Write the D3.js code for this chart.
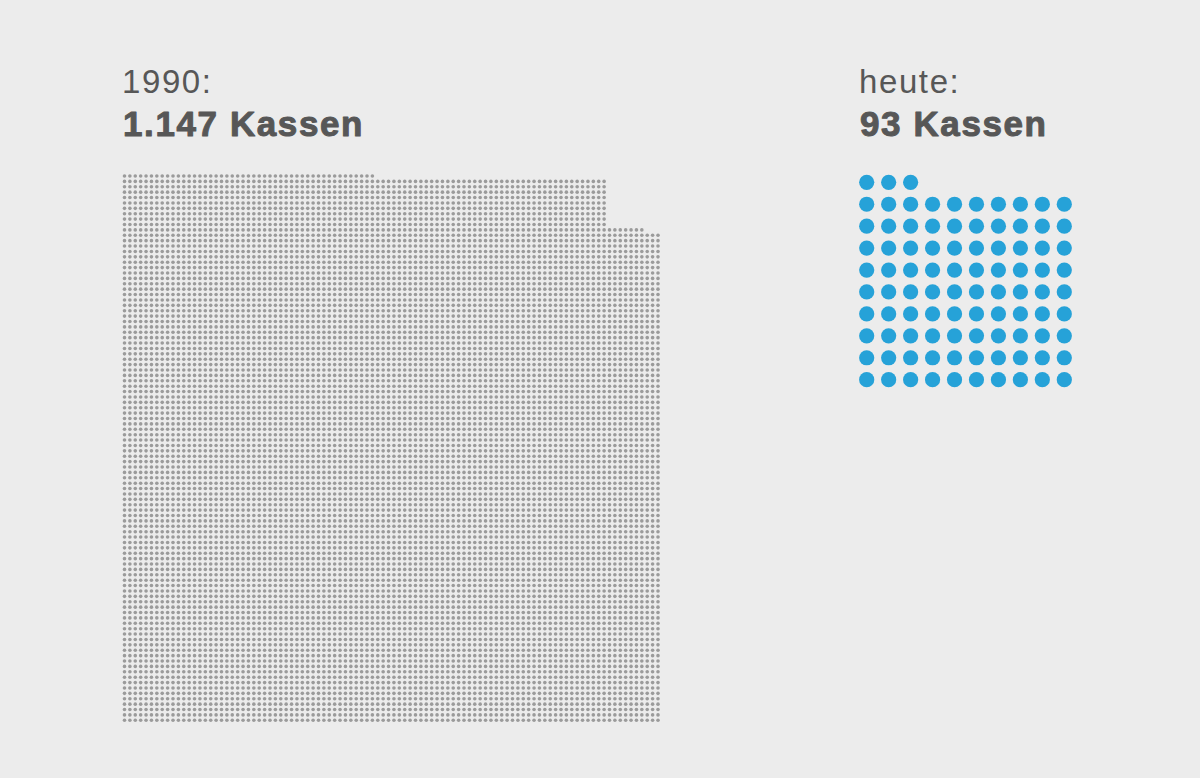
<!DOCTYPE html>
<html>
<head>
<meta charset="utf-8">
<script src="https://cdn.jsdelivr.net/npm/d3@7"></script>
<style>
  html, body { margin: 0; padding: 0; background: #ececec; }
  svg { display: block; }
  text { font-family: "Liberation Sans", Arial, sans-serif; fill: #575757; }
</style>
</head>
<body>
<div id="chart-area"></div>
<script>
// values
var titles = ["1990:", "heute:"];
var subtitles = ["1.147 Kassen", "93 Kassen"];
var kassen = [1147, 93];

// grey grid, rows from top: [dots in row, number of such rows]
var greyRuns = [[47, 1], [90, 9], [97, 1], [100, 91]];

var blueCols = 10;

var svg = d3.select("#chart-area").append("svg")
            .attr("width", 1200)
            .attr("height", 778);

// ---- grey block (1990) ----
var greyRows = [];
greyRuns.forEach((r) => {
  for (var i = 0; i < r[1]; i++) greyRows.push(r[0]);
});

var greyDots = [];
greyRows.forEach((n, row) => {
  for (var c = 0; c < n; c++) greyDots.push({row: row, col: c});
});

var xGrey = d3.scaleLinear()
              .domain([0, 99])
              .range([124.5, 658]);
var yGrey = d3.scaleLinear()
              .domain([0, greyRows.length - 1])
              .range([176, 720.3]);

svg.append("g").selectAll("circle")
   .data(greyDots)
   .enter()
   .append("circle")
     .attr("cx", (d) => xGrey(d.col))
     .attr("cy", (d) => yGrey(d.row))
     .attr("r", 1.8)
     .attr("fill", "#9b9b9b");

// ---- blue block (heute) ----
var nBlue = kassen[1];
var blueRowsN = Math.ceil(nBlue / blueCols);
var blueDots = d3.range(nBlue).map((i) => {
  // fill from bottom, partial row on top, left aligned
  var fromBottom = Math.floor(i / blueCols);
  return {row: blueRowsN - 1 - fromBottom, col: i % blueCols};
});

var xBlue = d3.scaleLinear()
              .domain([0, blueCols - 1])
              .range([866.7, 1064.3]);
var yBlue = d3.scaleLinear()
              .domain([0, blueRowsN - 1])
              .range([182.3, 379.7]);

svg.append("g").selectAll("circle")
   .data(blueDots)
   .enter()
   .append("circle")
     .attr("cx", (d) => xBlue(d.col))
     .attr("cy", (d) => yBlue(d.row))
     .attr("r", 7.6)
     .attr("fill", "#26a2d8");

// ---- labels ----
var labelX = [122, 859];

svg.selectAll(".title")
   .data(titles)
   .enter()
   .append("text")
     .attr("class", "title")
     .attr("x", (d, i) => labelX[i])
     .attr("y", 93)
     .style("font-size", "33px")
     .style("letter-spacing", "1.6px")
     .text((d) => d);

// heavier bold, like the original's grotesk
svg.selectAll(".sub")
   .data(subtitles)
   .enter()
   .append("text")
     .attr("class", "sub")
     .attr("x", (d, i) => labelX[i] + 1)
     .attr("y", 136)
     .style("font-size", "35px")
     .style("font-weight", "bold")
     .style("letter-spacing", "1.6px")
     .style("stroke", "#575757")
     .style("stroke-width", "1px")
     .style("stroke-linejoin", "round")
     .text((d) => d);
</script>
</body>
</html>
